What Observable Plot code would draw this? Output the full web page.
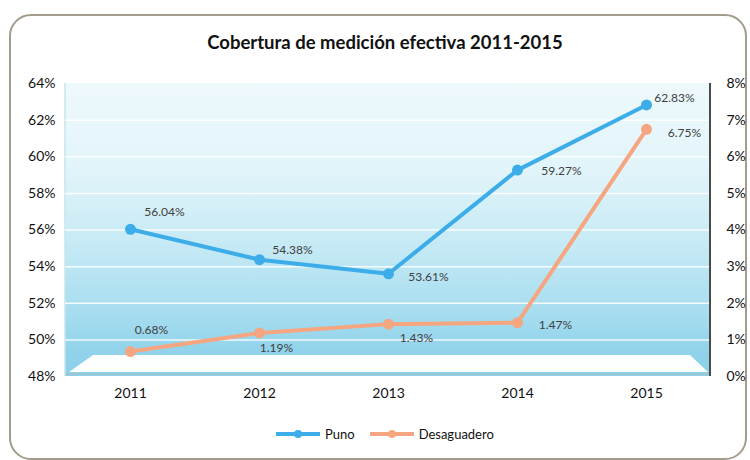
<!DOCTYPE html>
<html><head><meta charset="utf-8">
<script src="https://cdn.jsdelivr.net/npm/d3@7"></script>
<script src="https://cdn.jsdelivr.net/npm/@observablehq/plot@0.6"></script>
<style>
body{margin:0;background:#fff;font-family:Lato,"Open Sans",sans-serif;}
#wrap{position:relative;width:750px;height:460px;overflow:hidden;}
#frame{position:absolute;left:9px;top:14px;width:738px;height:446px;border:2px solid #a39b8b;border-radius:22px;box-sizing:border-box;}
#title{position:absolute;top:31px;left:385px;transform:translateX(-50%);white-space:nowrap;font-weight:bold;font-size:18.5px;color:#111;}
#chart{position:absolute;left:0;top:0;}
#legend{position:absolute;top:426px;left:275px;display:flex;align-items:center;font-size:13px;color:#111;white-space:nowrap;}
#legend .item{display:flex;align-items:center;margin-right:14px;}
#legend svg{margin-right:4px;}
</style></head>
<body>
<div id="wrap">
  <div id="frame"></div>
  <div id="title">Cobertura de medición efectiva 2011-2015</div>
  <div id="chart"></div>
  <div id="legend"></div>
</div>
<script>
const years = ["2011", "2012", "2013", "2014", "2015"];
const punoValues = [56.04, 54.38, 53.61, 59.27, 62.83];
const desaguaderoValues = [0.68, 1.19, 1.43, 1.47, 6.75];
const leftTicks = [48, 50, 52, 54, 56, 58, 60, 62, 64];
const rightTicks = [0, 1, 2, 3, 4, 5, 6, 7, 8];
const seriesNames = ["Puno", "Desaguadero"];

const BLUE = "#3dadea", ORANGE = "#f5a680";
// right axis (0–8%) shares pixel range with left axis (48–64%)
const toLeft = v => 48 + 2 * v;

const punoRows = years.map((year, i) => ({year, v: punoValues[i], label: punoValues[i].toFixed(2) + "%"}));
const desRows = years.map((year, i) => ({year, v: toLeft(desaguaderoValues[i]), label: desaguaderoValues[i].toFixed(2) + "%"}));

// label placement (style only)
const punoOffsets = {"2011": [34, -17], "2012": [33, -10], "2013": [40, 3], "2014": [44, 1], "2015": [28, -7]};
const desOffsets = {"2011": [21, -21], "2012": [17, 15], "2013": [28, 14], "2014": [38, 2], "2015": [38, 4]};

function wall(index, scales, values, dim) {
  const l = dim.marginLeft, t = dim.marginTop, r = dim.width - dim.marginRight, b = dim.height - dim.marginBottom;
  const g = d3.create("svg:g");
  const lg = g.append("defs").append("linearGradient").attr("id", "wallGrad")
    .attr("x1", 0).attr("y1", 0).attr("x2", 0).attr("y2", 1);
  [[0, "#eef9fc"], [0.3, "#e1f4f9"], [0.55, "#c6eaf5"], [0.8, "#a4dcef"], [0.93, "#8fd2ea"], [1, "#8ccfe8"]]
    .forEach(([o, c]) => lg.append("stop").attr("offset", o).attr("stop-color", c));
  g.append("rect").attr("x", l).attr("y", t).attr("width", r - l).attr("height", b - t).attr("fill", "url(#wallGrad)");
  g.append("path").attr("d", `M${l + 4},${b - 4}L${l + 28},${b - 21}L${r - 20},${b - 21}L${r - 2},${b - 4}Z`)
    .attr("fill", "#fdffff");
  g.append("line").attr("x1", l).attr("x2", r).attr("y1", b - 2).attr("y2", b - 2).attr("stroke", "#9cc6d2").attr("stroke-width", 2);
  g.append("line").attr("x1", l).attr("x2", l).attr("y1", t).attr("y2", b).attr("stroke", "#c6e4ec").attr("stroke-width", 1.5);
  return g.node();
}
function rightLine(index, scales, values, dim) {
  const r = dim.width - dim.marginRight, t = dim.marginTop, b = dim.height - dim.marginBottom;
  const g = d3.create("svg:g");
  g.append("line").attr("x1", r).attr("x2", r).attr("y1", t).attr("y2", b).attr("stroke", "#4a4a4a").attr("stroke-width", 2);
  return g.node();
}

const labelMarks = [];
years.forEach(yr => {
  labelMarks.push(Plot.text(punoRows.filter(d => d.year === yr), {x: "year", y: "v", text: "label", dx: punoOffsets[yr][0], dy: punoOffsets[yr][1], fill: "#404040", fontSize: 12}));
  labelMarks.push(Plot.text(desRows.filter(d => d.year === yr), {x: "year", y: "v", text: "label", dx: desOffsets[yr][0], dy: desOffsets[yr][1], fill: "#404040", fontSize: 12}));
});

const chart = Plot.plot({
  width: 750, height: 460,
  marginTop: 83, marginBottom: 84, marginLeft: 65, marginRight: 40,
  style: {fontFamily: "Lato, 'Open Sans', sans-serif", color: "#111", background: "transparent"},
  x: {type: "point", domain: years, padding: 0.5},
  y: {domain: [48, 64]},
  marks: [
    wall,
    Plot.gridY(leftTicks.slice(1, -1), {stroke: "#ffffff", strokeOpacity: 0.85, strokeWidth: 1.5}),
    rightLine,
    Plot.axisY(leftTicks, {anchor: "left", tickSize: 0, tickPadding: 10, tickFormat: d => d + "%", fontSize: 14, label: null}),
    Plot.axisY(leftTicks, {anchor: "right", tickSize: 0, tickPadding: 16, tickFormat: (d, i) => rightTicks[i] + "%", fontSize: 14, label: null}),
    Plot.axisX(years, {tickSize: 0, tickPadding: 12, fontSize: 14, label: null}),
    Plot.line(desRows, {x: "year", y: "v", stroke: ORANGE, strokeWidth: 4}),
    Plot.dot(desRows, {x: "year", y: "v", fill: ORANGE, r: 5.5}),
    Plot.line(punoRows, {x: "year", y: "v", stroke: BLUE, strokeWidth: 4}),
    Plot.dot(punoRows, {x: "year", y: "v", fill: BLUE, r: 5.5}),
    ...labelMarks
  ]
});
document.getElementById("chart").appendChild(chart);

const legend = document.getElementById("legend");
[[seriesNames[0], BLUE], [seriesNames[1], ORANGE]].forEach(([name, c]) => {
  const item = document.createElement("div");
  item.className = "item";
  item.innerHTML = `<svg width="46" height="10"><line x1="1" x2="45" y1="5" y2="5" stroke="${c}" stroke-width="4"/><circle cx="23" cy="5" r="4" fill="${c}"/></svg><span>${name}</span>`;
  legend.appendChild(item);
});
</script>
</body></html>
